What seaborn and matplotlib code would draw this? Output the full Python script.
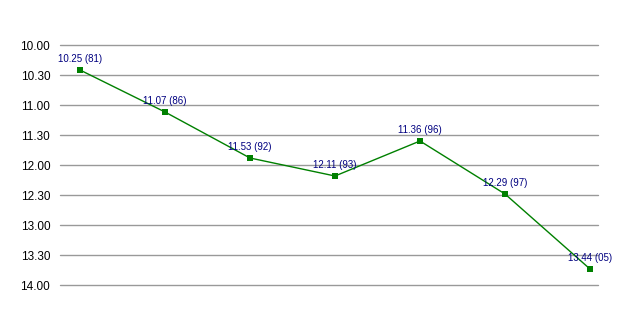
import matplotlib
matplotlib.use("Agg")
import matplotlib.pyplot as plt
import seaborn as sns
import pandas as pd

# Data (times as min.sec, with year labels)
years = ["81", "86", "92", "93", "96", "97", "05"]
times = ["10.25", "11.07", "11.53", "12.11", "11.36", "12.29", "13.44"]
ytick_labels = ["10.00", "10.30", "11.00", "11.30", "12.00", "12.30", "13.00", "13.30", "14.00"]

def to_sec(s):
    m, sec = s.split(".")
    return int(m) * 60 + int(sec)

df = pd.DataFrame({
    "idx": list(range(len(years))),
    "seconds": [to_sec(t) for t in times],
    "label": [f"{t} ({y})" for t, y in zip(times, years)],
})
ytick_pos = [to_sec(t) for t in ytick_labels]

sns.set_theme(style="white")
plt.rcParams["font.family"] = ["Liberation Sans", "DejaVu Sans"]

fig = plt.figure(figsize=(6.38, 3.15), dpi=100)
ax = fig.add_axes([60/638, 1 - 285/315, (598-60)/638, (285-45)/315])

sns.lineplot(data=df, x="idx", y="seconds", ax=ax, color="#008000",
             linewidth=1.0, marker="s", markersize=5, markeredgewidth=0,
             markerfacecolor="#008000", zorder=3)

for _, r in df.iterrows():
    ax.annotate(r["label"], (r["idx"], r["seconds"]), xytext=(0, 4),
                textcoords="offset points", ha="center", va="bottom",
                color="#000080", fontsize=7, zorder=4)

ax.set_ylim(ytick_pos[-1], ytick_pos[0])
ax.set_xlim(-20/85, 6 + 8/85)
ax.set_yticks(ytick_pos)
ax.set_yticklabels(ytick_labels, fontsize=8.5, color="#000000")
ax.set_xticks([])
ax.set_xlabel("")
ax.set_ylabel("")
ax.grid(axis="y", color="#999999", linewidth=1)
for gl in ax.get_ygridlines():
    gl.set_clip_on(False)
ax.set_axisbelow(True)
for s in ax.spines.values():
    s.set_visible(False)
ax.tick_params(axis="y", length=0, pad=7)

fig.savefig("out.png", dpi=100, facecolor="white")
